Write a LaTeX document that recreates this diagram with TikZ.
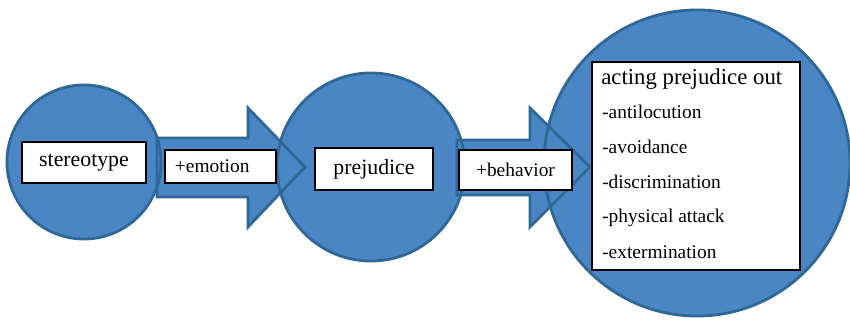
\documentclass[tikz,border=0pt]{standalone}
\usepackage{fontspec}
\setmainfont{Liberation Serif}
\definecolor{bubblefill}{HTML}{4A86C4}
\definecolor{bubbleline}{HTML}{2F6797}
\tikzset{
  bubble/.style={circle, inner sep=0pt, fill=bubblefill},
  rim/.style={draw=bubbleline, line width=2pt, line join=miter},
  blockfill/.style={fill=bubblefill},
  tagbox/.style={draw=black, fill=white, line width=1.4pt, inner sep=0pt},
  bigfont/.style={font=\fontsize{15.5}{18}\selectfont},
  titlefont/.style={font=\fontsize{16.2}{19}\selectfont},
  smallfont/.style={font=\fontsize{13.8}{16}\selectfont},
  listitem/.style={anchor=base west, inner sep=0pt, smallfont},
}
\begin{document}
\begin{tikzpicture}[x=0.025cm, y=-0.025cm]
\useasboundingbox (0,0) rectangle (850,320);

% filled stages
\node[bubble, minimum size=3.85cm] (c1) at (84,162) {};
\node[bubble, minimum size=4.7cm]  (c2) at (371,167) {};
\node[bubble, minimum size=7.65cm] (c3) at (697,163) {};

% filled block arrows between stages
\path[blockfill] (157,138) -- (248,138) -- (248,108) -- (305,167) -- (248,227) -- (248,197) -- (157,197) -- cycle;
\path[blockfill] (457,140) -- (530,140) -- (530,108) -- (590,167) -- (530,227) -- (530,195) -- (457,195) -- cycle;

% outlines on top of all fills
\draw[rim] (c1.center) circle[radius=1.925cm];
\draw[rim] (c2.center) circle[radius=2.35cm];
\draw[rim] (c3.center) circle[radius=3.825cm];
\draw[rim] (157,138) -- (248,138) -- (248,108) -- (305,167) -- (248,227) -- (248,197) -- (157,197) -- cycle;
\draw[rim] (457,140) -- (530,140) -- (530,108) -- (590,167) -- (530,227) -- (530,195) -- (457,195) -- cycle;

% labels
\node[tagbox, bigfont, minimum width=3.1cm, minimum height=1.025cm] (stereo) at (84,162.5) {stereotype};
\node[tagbox, smallfont, text width=2.275cm, inner xsep=0.25cm, align=left, minimum height=0.825cm] (emotion) at (220.5,166.5) {+emotion};
\node[tagbox, bigfont, minimum width=2.95cm, minimum height=1.05cm] (prej) at (374,169) {prejudice};
\node[tagbox, smallfont, minimum width=2.825cm, minimum height=1.0cm] (behav) at (515.5,170) {+behavior};

% list of outcomes
\node[tagbox, minimum width=5.2cm, minimum height=5.2cm] (acts) at (696,166) {};
\node[anchor=base west, inner sep=0pt, titlefont] (title) at (601,85) {acting prejudice out};
\node[listitem] (i1) at (602,119) {-antilocution};
\node[listitem] (i2) at (602,154) {-avoidance};
\node[listitem] (i3) at (602,189) {-discrimination};
\node[listitem] (i4) at (602,223) {-physical attack};
\node[listitem] (i5) at (602,259) {-extermination};
\end{tikzpicture}
\end{document}
